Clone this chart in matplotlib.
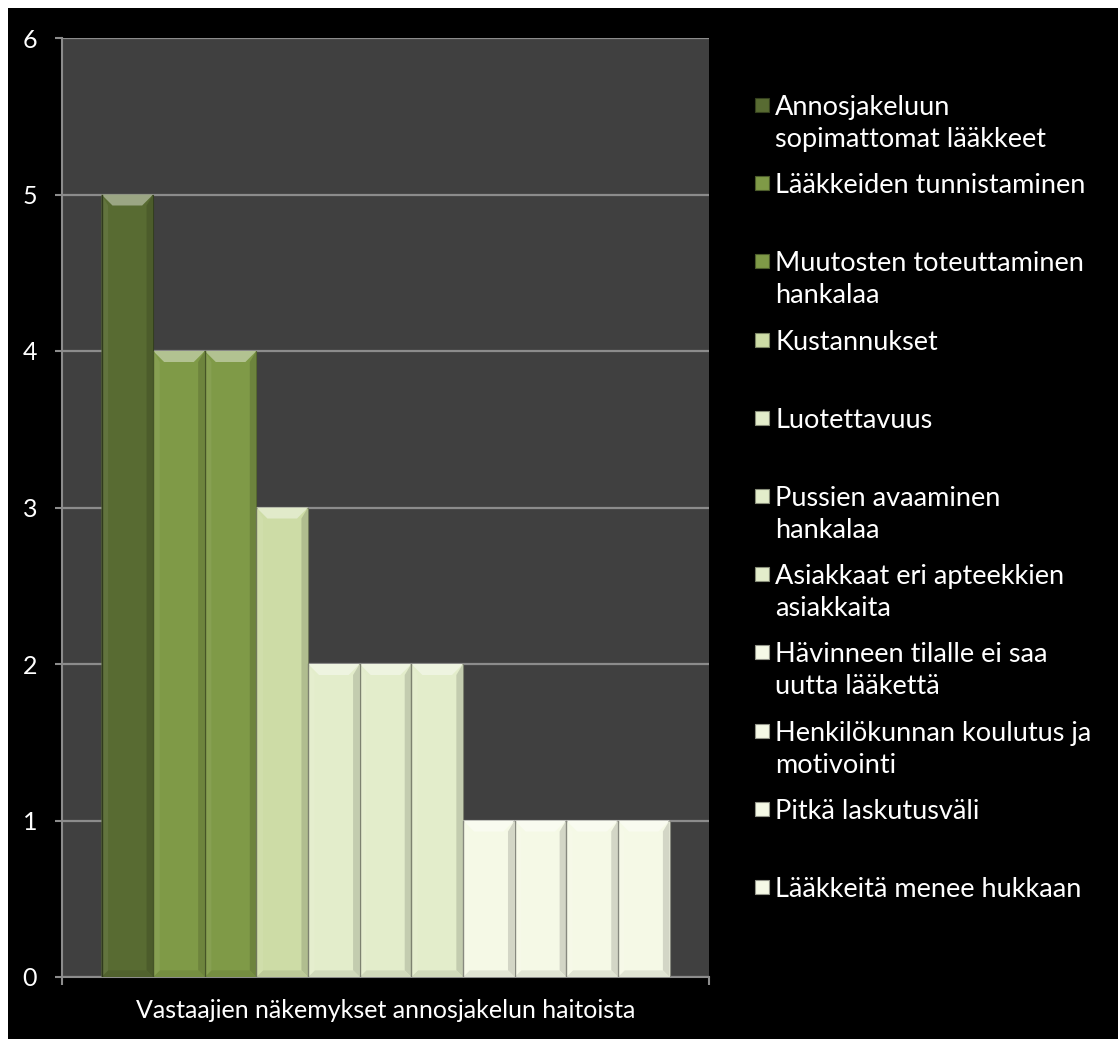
import matplotlib
matplotlib.use("Agg")
import matplotlib.pyplot as plt
from matplotlib.patches import Polygon, Rectangle
from matplotlib.colors import to_rgb
import numpy as np

# ============================================================
# DATA
# ============================================================

category = "Vastaajien näkemykset annosjakelun haitoista"

labels = [
    "Annosjakeluun\nsopimattomat lääkkeet",
    "Lääkkeiden tunnistaminen",
    "Muutosten toteuttaminen\nhankalaa",
    "Kustannukset",
    "Luotettavuus",
    "Pussien avaaminen\nhankalaa",
    "Asiakkaat eri apteekkien\nasiakkaita",
    "Hävinneen tilalle ei saa\nuutta lääkettä",
    "Henkilökunnan koulutus ja\nmotivointi",
    "Pitkä laskutusväli",
    "Lääkkeitä menee hukkaan",
]

values = [5, 4, 4, 3, 2, 2, 2, 1, 1, 1, 1]

colors = ["#586b32", "#7f9a47", "#7f9a47", "#cddca6",
          "#e3edcb", "#e3edcb", "#e3edcb",
          "#f5f9e6", "#f5f9e6", "#f5f9e6", "#f5f9e6"]


def shade(c, f):
    r, g, b = to_rgb(c)
    if f >= 0:
        return (r + (1 - r) * f, g + (1 - g) * f, b + (1 - b) * f)
    return (r * (1 + f), g * (1 + f), b * (1 + f))


# ============================================================
# FIGURE
# ============================================================

W, H = 1118, 1039
fig = plt.figure(figsize=(W / 100, H / 100), dpi=100, facecolor="white")
fig.patches.append(Rectangle((8 / W, -0.05), 1.1, 1.05 - 8 / H, transform=fig.transFigure,
                             facecolor="black", edgecolor="none", zorder=-10))

FONT = "Lato"
ax = fig.add_axes([62 / W, 1 - 977 / H, (709 - 62) / W, (977 - 38) / H])
ax.set_facecolor("#404040")

n = len(values)
bw = (568 / 647) / n
x = (np.arange(n) - (n - 1) / 2) * bw
bars = ax.bar(x, values, width=bw, color=colors, edgecolor=[shade(c, -0.45) for c in colors],
              linewidth=0.8, zorder=3)

ax.set_xlim(-0.5, 0.5)
ax.set_ylim(0, 6)

# bevel effect on each bar
dx = 11 / 647
dy = 11 / (939 / 6)
for b, c in zip(bars, colors):
    x0, w, h = b.get_x(), b.get_width(), b.get_height()
    x1 = x0 + w
    ax.add_patch(Polygon([(x0, h), (x1, h), (x1 - dx, h - dy), (x0 + dx, h - dy)],
                         closed=True, facecolor=shade(c, 0.4), edgecolor="none", zorder=4))
    ax.add_patch(Polygon([(x1, h), (x1, 0), (x1 - dx * 0.6, dy * 0.6), (x1 - dx * 0.6, h - dy)],
                         closed=True, facecolor=shade(c, -0.14), edgecolor="none", zorder=4))
    ax.add_patch(Polygon([(x0, 0), (x1, 0), (x1 - dx * 0.6, dy * 0.6), (x0 + dx * 0.6, dy * 0.6)],
                         closed=True, facecolor=shade(c, -0.08), edgecolor="none", zorder=4))
    ax.add_patch(Polygon([(x0, h), (x0, 0), (x0 + dx * 0.6, dy * 0.6), (x0 + dx * 0.6, h - dy)],
                         closed=True, facecolor=shade(c, 0.06), edgecolor="none", zorder=4))
    ax.plot([x0, x0], [0, h], color=shade(c, -0.45), linewidth=1.0, zorder=5)

# grid and axes
ax.set_yticks(range(0, 7))
ax.yaxis.grid(True, color="#8c8c8c", linewidth=1.6, zorder=1)
ax.set_axisbelow(True)
for s in ["top", "right"]:
    ax.spines[s].set_visible(False)
ax.spines["left"].set_color("#8c8c8c")
ax.spines["bottom"].set_color("#8c8c8c")
ax.spines["left"].set_linewidth(1.5)
ax.spines["bottom"].set_linewidth(1.5)
ax.tick_params(axis="y", colors="#8c8c8c", length=5, width=1.5, labelcolor="white",
               labelsize=18, pad=13)
ax.set_xticks([-0.5, 0.5])
ax.set_xticklabels(["", ""])
ax.tick_params(axis="x", colors="#8c8c8c", length=6, width=1.5)
for t in ax.get_yticklabels():
    t.set_fontfamily(FONT)

fig.text((62 + 709) / 2 / W, 1 - 1011 / H, category, color="white", fontsize=18,
         family=FONT, ha="center", va="center")

# legend drawn by hand so entries sit on an even pitch
base = 115
pitch = 78.2
line_h = 32
sq = 14
for i, (lab, c) in enumerate(zip(labels, colors)):
    yb = base + i * pitch
    fig.patches.append(Rectangle((755 / W, 1 - (yb - 3) / H), sq / W, sq / H,
                                 transform=fig.transFigure, facecolor=c,
                                 edgecolor=shade(c, -0.4), linewidth=0.8))
    for k, line in enumerate(lab.split("\n")):
        fig.text(775 / W, 1 - (yb + k * line_h) / H, line, color="white", fontsize=19.5,
                 family=FONT, ha="left", va="baseline")

fig.savefig("out.png", dpi=100, facecolor=fig.get_facecolor())
